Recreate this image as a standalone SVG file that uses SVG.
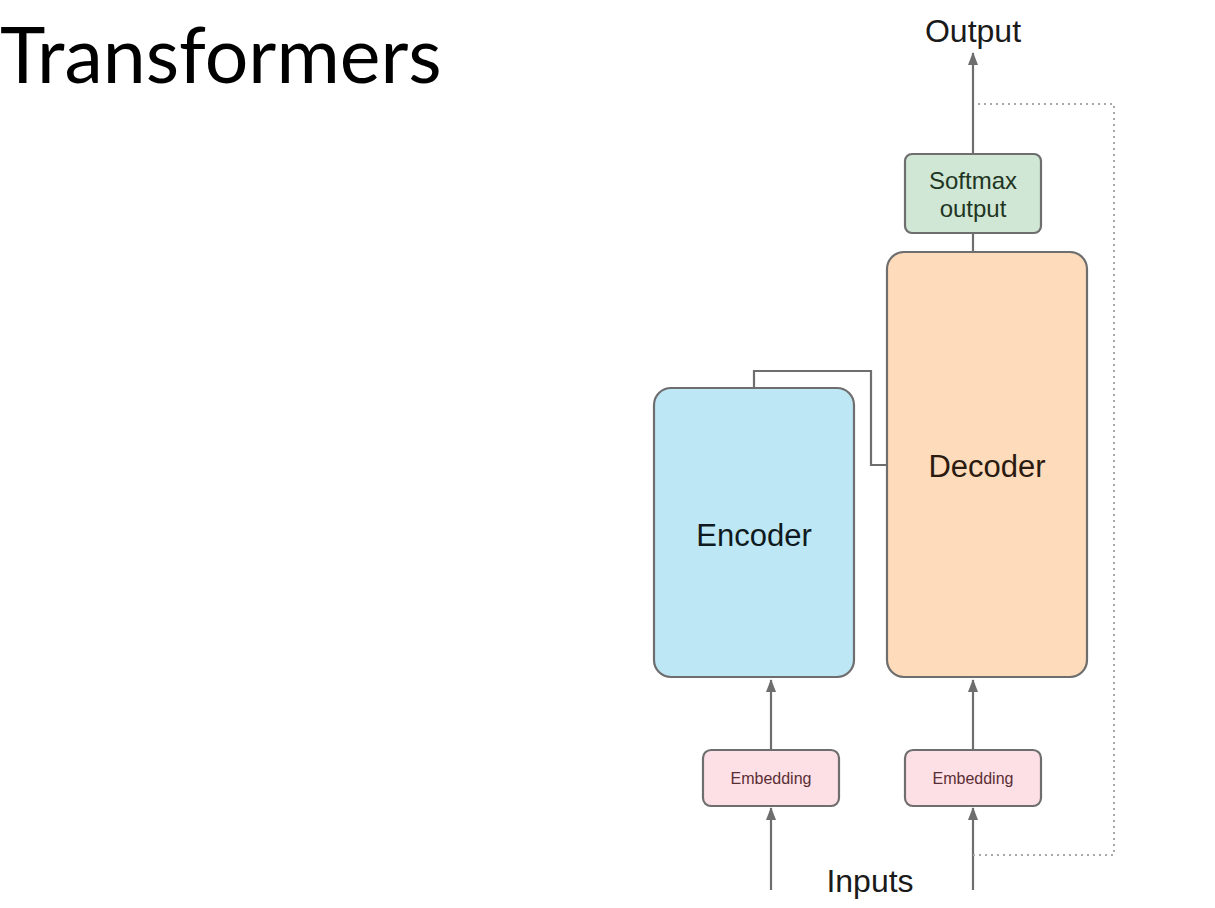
<svg xmlns="http://www.w3.org/2000/svg" width="1215" height="908" viewBox="0 0 1215 908">
<style>
.box{stroke:#6e6e6e;stroke-width:2.2}
.ln{fill:none;stroke:#6e6e6e;stroke-width:2.2}
.dot{fill:none;stroke:#a8a8a8;stroke-width:2;stroke-dasharray:2 4}
.t{font-family:"Liberation Sans",Arial,sans-serif;text-anchor:middle}
</style>
<defs>
<marker id="ah" viewBox="0 0 13 10" refX="12" refY="5" markerWidth="13" markerHeight="10" markerUnits="userSpaceOnUse" orient="auto">
<path d="M0,0 L13,5 L0,10 Z" fill="#6e6e6e"/>
</marker>
</defs>
<rect width="1215" height="908" fill="#ffffff"/>
<text x="0" y="83" font-family="Lato,sans-serif" font-size="77" fill="#000">Transformers</text>
<g id="connectors">
<line class="ln" x1="973" y1="154" x2="973" y2="53" marker-end="url(#ah)"/>
<line class="ln" x1="973" y1="233" x2="973" y2="252"/>
<polyline class="ln" points="754,388 754,371 871,371 871,465 887,465"/>
<line class="ln" x1="771" y1="750" x2="771" y2="680" marker-end="url(#ah)"/>
<line class="ln" x1="973" y1="750" x2="973" y2="680" marker-end="url(#ah)"/>
<line class="ln" x1="771" y1="890" x2="771" y2="808" marker-end="url(#ah)"/>
<line class="ln" x1="973" y1="890" x2="973" y2="808" marker-end="url(#ah)"/>
<polyline class="dot" points="978,104 1114,104 1114,855 973,855"/>
</g>
<g id="output">
<text class="t" x="973" y="42" font-size="32" fill="#1a1a1a">Output</text>
</g>
<g id="softmax">
<rect class="box" x="905" y="154" width="136" height="79" rx="7" fill="#cfe7d4"/>
<text class="t" x="973" y="189" font-size="24" fill="#1f3523">Softmax</text>
<text class="t" x="973" y="217" font-size="24" fill="#1f3523">output</text>
</g>
<g id="decoder">
<rect class="box" x="887" y="252" width="200" height="425" rx="17" fill="#fedcbb"/>
<text class="t" x="987" y="477" font-size="31" fill="#2a1a10">Decoder</text>
</g>
<g id="encoder">
<rect class="box" x="654" y="388" width="200" height="289" rx="17" fill="#bee7f5"/>
<text class="t" x="754" y="546" font-size="31" fill="#0f1a20">Encoder</text>
</g>
<g id="embedding-enc">
<rect class="box" x="703" y="750" width="136" height="56" rx="8" fill="#fde0e5"/>
<text class="t" x="771" y="784" font-size="16" fill="#5a2e35">Embedding</text>
</g>
<g id="embedding-dec">
<rect class="box" x="905" y="750" width="136" height="56" rx="8" fill="#fde0e5"/>
<text class="t" x="973" y="784" font-size="16" fill="#5a2e35">Embedding</text>
</g>
<g id="inputs">
<text class="t" x="870" y="892" font-size="32" fill="#1a1a1a">Inputs</text>
</g>
</svg>
